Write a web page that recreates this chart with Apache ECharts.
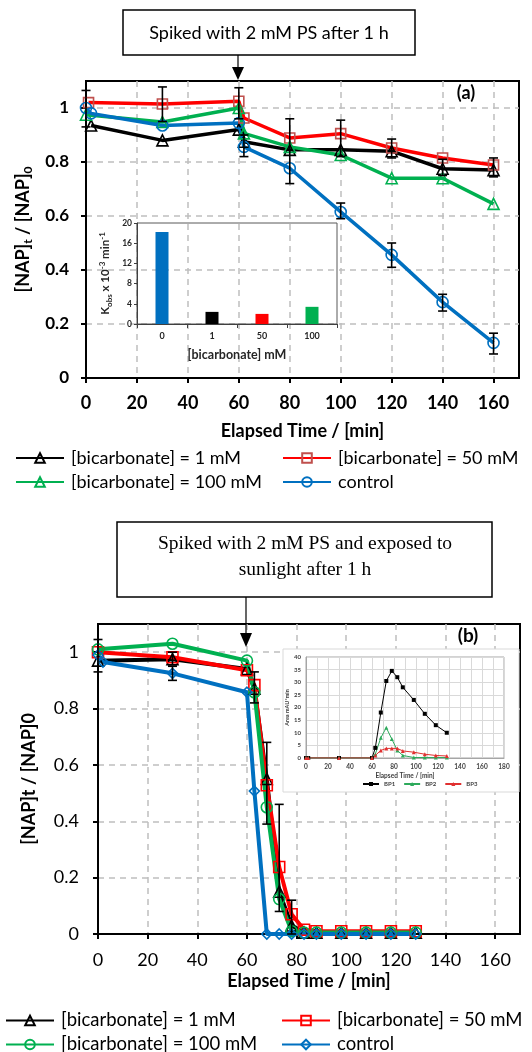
<!DOCTYPE html>
<html><head><meta charset="utf-8">
<script src="https://cdn.jsdelivr.net/npm/echarts@6/dist/echarts.min.js"></script>
<style>html,body{margin:0;padding:0;background:#fff}#c{width:532px;height:1052px}</style>
</head><body><div id="c"></div>
<script>
// ---------- Panel (a) data ----------
const timeA = [0, 30, 60, 62, 80, 100, 120, 140, 160];
const timeA_ctrl = [0, 2, 30, 60, 62, 80, 100, 120, 140, 160];
const napA_1mM = [0.935, 0.88, 0.92, 0.875, 0.845, 0.845, 0.84, 0.775, 0.77];
const napA_50mM = [1.02, 1.015, 1.025, 0.963, 0.889, 0.905, 0.852, 0.815, 0.789];
const napA_100mM = [0.975, 0.948, 1.0, 0.906, 0.856, 0.826, 0.74, 0.74, 0.645];
const napA_ctrl = [1.0, 0.98, 0.935, 0.944, 0.856, 0.777, 0.615, 0.456, 0.281, 0.13];
const errA_x = [0, 30, 60, 62, 80, 100, 100, 120, 120, 140, 140, 160, 160];
const errA_lo = [0.93, 0.95, 0.96, 0.82, 0.72, 0.82, 0.59, 0.815, 0.41, 0.75, 0.248, 0.745, 0.089];
const errA_hi = [1.065, 1.078, 1.075, 0.9, 0.96, 0.955, 0.648, 0.885, 0.5, 0.81, 0.31, 0.815, 0.166];
// inset (a)
const bicarbCats = ['0', '1', '50', '100'];
const kobsVals = [18.2, 2.4, 2.0, 3.4];
const kobsColors = ['#0070c0', '#000000', '#ff0000', '#00b050'];

// ---------- Panel (b) data ----------
const timeB = [0, 30, 60, 63, 68, 73, 78, 83, 88, 98, 108, 118, 128];
const timeB_ctrl = [0, 2, 30, 60, 63, 68, 73, 78, 83, 88, 98, 108, 118, 128];
const napB_1mM = [0.97, 0.975, 0.94, 0.87, 0.55, 0.15, 0.03, 0.005, 0.005, 0.005, 0.005, 0.005, 0.005];
const napB_50mM = [1.0, 0.982, 0.936, 0.883, 0.528, 0.238, 0.07, 0.015, 0.01, 0.01, 0.01, 0.01, 0.01];
const napB_100mM = [1.01, 1.03, 0.97, 0.858, 0.45, 0.124, 0.01, 0.005, 0.005, 0.005, 0.005, 0.005, 0.005];
const napB_ctrl = [0.99, 0.965, 0.925, 0.858, 0.507, 0, 0, 0, 0, 0, 0, 0, 0, 0];
const errB_x = [0, 30, 30, 63, 68, 73, 78];
const errB_lo = [0.93, 0.955, 0.9, 0.82, 0.39, 0.08, 0.0];
const errB_hi = [1.045, 1.0, 0.95, 0.93, 0.68, 0.46, 0.12];
// inset (b)
const timeBP = [0, 2, 30, 60, 63, 68, 73, 78, 83, 88, 98, 108, 118, 128];
const bp1 = [0, 0, 0, 0, 4, 18, 30.5, 34.5, 32, 28, 23, 17.5, 13, 10];
const bp2 = [0, 0, 0, 0, 1.5, 8, 12, 7.5, 3, 1, 0.2, 0.2, 0.2, 0.2];
const bp3 = [0, 0, 0, 0, 1, 3, 3.8, 3.8, 3.8, 2.8, 2.3, 1.5, 1, 0.8];

const xTicks = [0, 20, 40, 60, 80, 100, 120, 140, 160];
const yTicks = [0, 0.2, 0.4, 0.6, 0.8, 1];
const legendNames = ['[bicarbonate] = 1 mM', '[bicarbonate] = 50 mM', '[bicarbonate] = 100 mM', 'control'];

const FONT = 'Lato';
const zip = (xs, ys) => xs.map((x, i) => [x, ys[i]]);

function errSeries(xi, yi, xs, lo, hi, z) {
  return {
    type: 'custom', xAxisIndex: xi, yAxisIndex: yi, z: z, silent: true,
    data: xs.map((x, i) => [x, lo[i], hi[i]]),
    encode: { x: 0, y: [1, 2] },
    renderItem: function (params, api) {
      const x = api.value(0);
      const p1 = api.coord([x, api.value(1)]);
      const p2 = api.coord([x, api.value(2)]);
      const w = 4.5;
      const st = { stroke: '#000', lineWidth: 1.6 };
      return { type: 'group', children: [
        { type: 'line', shape: { x1: p1[0], y1: p1[1], x2: p2[0], y2: p2[1] }, style: st },
        { type: 'line', shape: { x1: p1[0] - w, y1: p1[1], x2: p1[0] + w, y2: p1[1] }, style: st },
        { type: 'line', shape: { x1: p2[0] - w, y1: p2[1], x2: p2[0] + w, y2: p2[1] }, style: st }
      ] };
    }
  };
}

function lineS(name, xi, yi, data, color, border, symbol, size, width, z) {
  return {
    name: name, type: 'line', xAxisIndex: xi, yAxisIndex: yi, data: data, z: z,
    symbol: symbol, symbolSize: size, showAllSymbol: true, animation: false,
    color: color,
    lineStyle: { color: color, width: width },
    itemStyle: { color: 'rgba(255,255,255,0)', borderColor: border, borderWidth: 1.6 }
  };
}

const gridDash = { show: true, lineStyle: { color: '#bfbfbf', width: 1.5, type: [6, 5] } };

function mainX(gi, bold, fs, margin, nameGap) {
  return {
    type: 'value', gridIndex: gi, min: 0, max: 170, interval: 20,
    axisLine: { show: true, onZero: false, lineStyle: { color: '#000', width: 2 } },
    axisTick: { show: true, inside: false, length: 5, lineStyle: { color: '#000', width: 2 }, customValues: xTicks },
    axisLabel: { customValues: xTicks, color: '#000', fontFamily: FONT, fontWeight: bold ? 'bold' : 'normal', fontSize: fs, margin: margin },
    splitLine: gridDash,
    name: 'Elapsed Time / [min]', nameLocation: 'middle', nameGap: nameGap,
    nameTextStyle: { color: '#000', fontFamily: FONT, fontWeight: 'bold', fontSize: 18 }
  };
}
function mainY(gi, bold, fs, margin, name, nameGap, rich) {
  return {
    type: 'value', gridIndex: gi, min: 0, max: 1.1, interval: 0.2,
    axisLine: { show: true, lineStyle: { color: '#000', width: 2 } },
    axisTick: { show: true, length: 5, lineStyle: { color: '#000', width: 2 }, customValues: yTicks },
    axisLabel: { customValues: yTicks, color: '#000', fontFamily: FONT, fontWeight: bold ? 'bold' : 'normal', fontSize: fs, margin: margin },
    splitLine: gridDash,
    name: name, nameLocation: 'middle', nameGap: nameGap, nameRotate: 90,
    nameTextStyle: { color: '#000', fontFamily: FONT, fontWeight: 'bold', fontSize: 18, rich: rich }
  };
}

const richNap = {
  b: { fontFamily: FONT, fontWeight: 'bold', fontSize: 18, lineHeight: 22, color: '#000' },
  s: { fontFamily: FONT, fontWeight: 'bold', fontSize: 12, lineHeight: 12, color: '#000', verticalAlign: 'bottom' }
};
const richK = {
  n: { fontFamily: FONT, fontWeight: 'bold', fontSize: 11.5, lineHeight: 15, color: '#262626' },
  s: { fontFamily: FONT, fontWeight: 'bold', fontSize: 8, lineHeight: 8, color: '#262626', verticalAlign: 'bottom' },
  p: { fontFamily: FONT, fontWeight: 'bold', fontSize: 8, lineHeight: 8, color: '#262626', verticalAlign: 'top' }
};

function legendItem(name, left, top, fs) {
  return {
    data: [name], left: left, top: top, orient: 'horizontal', itemWidth: 48, itemHeight: 12, itemGap: 0,
    selectedMode: false, padding: 0,
    formatter: n => n.split('|')[1],
    textStyle: { fontFamily: FONT, fontSize: fs, color: '#000', padding: [0, 0, 0, 2] }
  };
}

const series = [
  // panel (a)
  lineS('A|' + legendNames[0], 0, 0, zip(timeA.map((t, i) => i === 0 ? 2 : t), napA_1mM), '#000000', '#000000', 'triangle', 11, 3.5, 3),
  lineS('A|' + legendNames[1], 0, 0, zip(timeA.map((t, i) => i === 0 ? 1 : t), napA_50mM), '#ff0000', '#c0504d', 'rect', 10, 3.5, 3),
  lineS('A|' + legendNames[2], 0, 0, zip(timeA, napA_100mM), '#00b050', '#00b050', 'triangle', 11, 3.5, 3),
  lineS('A|' + legendNames[3], 0, 0, zip(timeA_ctrl, napA_ctrl), '#0070c0', '#0070c0', 'circle', 11, 3.5, 3),
  errSeries(0, 0, errA_x, errA_lo, errA_hi, 4),
  {
    type: 'bar', xAxisIndex: 1, yAxisIndex: 1, barWidth: 13, z: 5, animation: false,
    data: kobsVals.map((v, i) => ({ value: v, itemStyle: { color: kobsColors[i] } }))
  },
  // panel (b)
  lineS('B|' + legendNames[0], 2, 2, zip(timeB, napB_1mM), '#000000', '#000000', 'triangle', 11, 4, 3),
  lineS('B|' + legendNames[1], 2, 2, zip(timeB, napB_50mM), '#ff0000', '#ff0000', 'rect', 11, 4, 3),
  lineS('B|' + legendNames[2], 2, 2, zip(timeB, napB_100mM), '#00b050', '#00b050', 'circle', 11, 4, 3),
  lineS('B|' + legendNames[3], 2, 2, zip(timeB_ctrl, napB_ctrl), '#0070c0', '#0070c0', 'diamond', 10, 4, 3),
  errSeries(2, 2, errB_x, errB_lo, errB_hi, 4),
  // inset (b)
  { name: 'BP1', type: 'line', xAxisIndex: 3, yAxisIndex: 3, data: zip(timeBP, bp1), z: 8, symbol: 'rect', symbolSize: 4, color: '#000', lineStyle: { width: 1, color: '#000' }, itemStyle: { color: '#000' }, animation: false },
  { name: 'BP2', type: 'line', xAxisIndex: 3, yAxisIndex: 3, data: zip(timeBP, bp2), z: 8, symbol: 'triangle', symbolSize: 4, color: '#2eaa5c', lineStyle: { width: 1, color: '#2eaa5c' }, itemStyle: { color: '#2eaa5c' }, animation: false },
  { name: 'BP3', type: 'line', xAxisIndex: 3, yAxisIndex: 3, data: zip(timeBP, bp3), z: 8, symbol: 'triangle', symbolSize: 4, color: '#e03030', lineStyle: { width: 1, color: '#e03030' }, itemStyle: { color: '#e03030' }, animation: false }
];

const option = {
  animation: false,
  backgroundColor: '#fff',
  grid: [
    { left: 86, top: 81, width: 433, height: 297, show: true, borderColor: '#000', borderWidth: 2, backgroundColor: 'transparent' },
    { left: 137, top: 223, width: 200, height: 101, show: true, borderColor: '#595959', borderWidth: 1, backgroundColor: 'transparent', z: 3 },
    { left: 98, top: 624, width: 422, height: 310, show: true, borderColor: '#000', borderWidth: 2, backgroundColor: 'transparent' },
    { left: 306, top: 657, width: 198, height: 101, show: true, borderColor: '#a6a6a6', borderWidth: 1, backgroundColor: 'transparent', z: 4 }
  ],
  xAxis: [
    mainX(0, true, 18, 16, 44),
    {
      type: 'category', gridIndex: 1, data: bicarbCats, z: 3,
      axisLine: { lineStyle: { color: '#404040', width: 1 } },
      axisTick: { show: true, length: 4, lineStyle: { color: '#404040' } },
      axisLabel: { color: '#262626', fontFamily: FONT, fontWeight: 'bold', fontSize: 9, margin: 8 },
      splitLine: { show: false },
      name: '[bicarbonate] mM', nameLocation: 'middle', nameGap: 24,
      nameTextStyle: { color: '#262626', fontFamily: FONT, fontWeight: 'bold', fontSize: 12.5 }
    },
    mainX(2, false, 18, 17, 38),
    {
      type: 'value', gridIndex: 3, min: 0, max: 180, interval: 20, z: 5,
      axisLine: { lineStyle: { color: '#a6a6a6', width: 1 } },
      axisTick: { show: false },
      axisLabel: { color: '#404040', fontFamily: FONT, fontWeight: 'bold', fontSize: 6.5, margin: 5 },
      splitLine: { show: true, lineStyle: { color: '#d9d9d9', width: 1 } },
      minorTick: { show: false, splitNumber: 2 },
      minorSplitLine: { show: true, lineStyle: { color: '#d9d9d9', width: 1 } },
      name: 'Elapsed Time / [min]', nameLocation: 'middle', nameGap: 14,
      nameTextStyle: { color: '#404040', fontFamily: FONT, fontWeight: 'bold', fontSize: 6.5 }
    }
  ],
  yAxis: [
    mainY(0, true, 17, 17, '{b|[NAP]}{s|t}{b| / [NAP]}{s|0}', 50, richNap),
    {
      type: 'value', gridIndex: 1, min: 0, max: 20, interval: 4, z: 3,
      axisLine: { show: true, lineStyle: { color: '#404040', width: 1 } },
      axisTick: { show: true, length: 3, lineStyle: { color: '#404040' } },
      axisLabel: { color: '#262626', fontFamily: FONT, fontWeight: 'bold', fontSize: 8.5, margin: 5 },
      splitLine: { show: false },
      name: '{n|K}{s|obs}{n| x 10}{p|-3}{n| min}{p|-1}', nameLocation: 'middle', nameGap: 24, nameRotate: 90,
      nameTextStyle: { rich: richK }
    },
    mainY(2, false, 18, 19, '[NAP]t / [NAP]0', 60, null),
    {
      type: 'value', gridIndex: 3, min: 0, max: 40, interval: 5, z: 5,
      axisLine: { show: true, lineStyle: { color: '#a6a6a6', width: 1 } },
      axisTick: { show: false },
      axisLabel: { color: '#404040', fontFamily: FONT, fontWeight: 'bold', fontSize: 6, margin: 5 },
      splitLine: { show: true, lineStyle: { color: '#d9d9d9', width: 1 } },
      name: 'Area mAU*min', nameLocation: 'middle', nameGap: 14, nameRotate: 90,
      nameTextStyle: { color: '#404040', fontFamily: FONT, fontWeight: 'bold', fontSize: 5.5 }
    }
  ],
  legend: [
    legendItem('A|' + legendNames[0], 15, 449, 18),
    legendItem('A|' + legendNames[1], 282, 449, 18),
    legendItem('A|' + legendNames[2], 15, 473, 18),
    legendItem('A|' + legendNames[3], 282, 473, 18),
    legendItem('B|' + legendNames[0], 5, 1011, 18.5),
    legendItem('B|' + legendNames[1], 281, 1011, 18.5),
    legendItem('B|' + legendNames[2], 5, 1035, 18.5),
    legendItem('B|' + legendNames[3], 281, 1035, 18.5),
    {
      data: ['BP1', 'BP2', 'BP3'], left: 362, top: 781, itemWidth: 16, itemHeight: 5, itemGap: 8, padding: 0,
      selectedMode: false, z: 9,
      textStyle: { fontFamily: FONT, fontSize: 6, color: '#404040', fontWeight: 'bold' }
    }
  ],
  graphic: [
    // inset (b) white panel
    { type: 'rect', z: 1, shape: { x: 283, y: 649, width: 236, height: 143 }, style: { fill: '#fff', stroke: '#d9d9d9', lineWidth: 1 } },
    // annotation (a)
    { type: 'rect', z: 10, shape: { x: 123, y: 10, width: 292, height: 45 }, style: { fill: '#fff', stroke: '#000', lineWidth: 1.5 } },
    { type: 'text', z: 11, x: 269, y: 33, style: { text: 'Spiked with 2 mM PS after 1 h', fontFamily: FONT, fontSize: 18, fill: '#000', align: 'center', verticalAlign: 'middle' } },
    { type: 'line', z: 10, shape: { x1: 238, y1: 55, x2: 238, y2: 70 }, style: { stroke: '#000', lineWidth: 1.2 } },
    { type: 'polygon', z: 10, shape: { points: [[232, 67], [244, 67], [238, 80]] }, style: { fill: '#000' } },
    { type: 'text', z: 11, x: 466, y: 93, style: { text: '(a)', fontFamily: FONT, fontWeight: 'bold', fontSize: 18, fill: '#000', align: 'center', verticalAlign: 'middle' } },
    // annotation (b)
    { type: 'rect', z: 10, shape: { x: 117, y: 522, width: 375, height: 75 }, style: { fill: '#fff', stroke: '#000', lineWidth: 1.5 } },
    { type: 'text', z: 11, x: 305, y: 544, style: { text: 'Spiked with 2 mM PS and exposed to', fontFamily: 'Liberation Serif', fontSize: 19.5, fill: '#000', align: 'center', verticalAlign: 'middle' } },
    { type: 'text', z: 11, x: 305, y: 570, style: { text: 'sunlight after 1 h', fontFamily: 'Liberation Serif', fontSize: 19.5, fill: '#000', align: 'center', verticalAlign: 'middle' } },
    { type: 'line', z: 10, shape: { x1: 246, y1: 597, x2: 246, y2: 636 }, style: { stroke: '#000', lineWidth: 1.2 } },
    { type: 'polygon', z: 10, shape: { points: [[240, 633], [252, 633], [246, 647]] }, style: { fill: '#000' } },
    { type: 'text', z: 11, x: 468, y: 636, style: { text: '(b)', fontFamily: FONT, fontWeight: 'bold', fontSize: 19, fill: '#000', align: 'center', verticalAlign: 'middle' } }
  ],
  series: series
};

const chart = echarts.init(document.getElementById('c'), null, { renderer: 'canvas' });
chart.setOption(option);
</script>
</body></html>
